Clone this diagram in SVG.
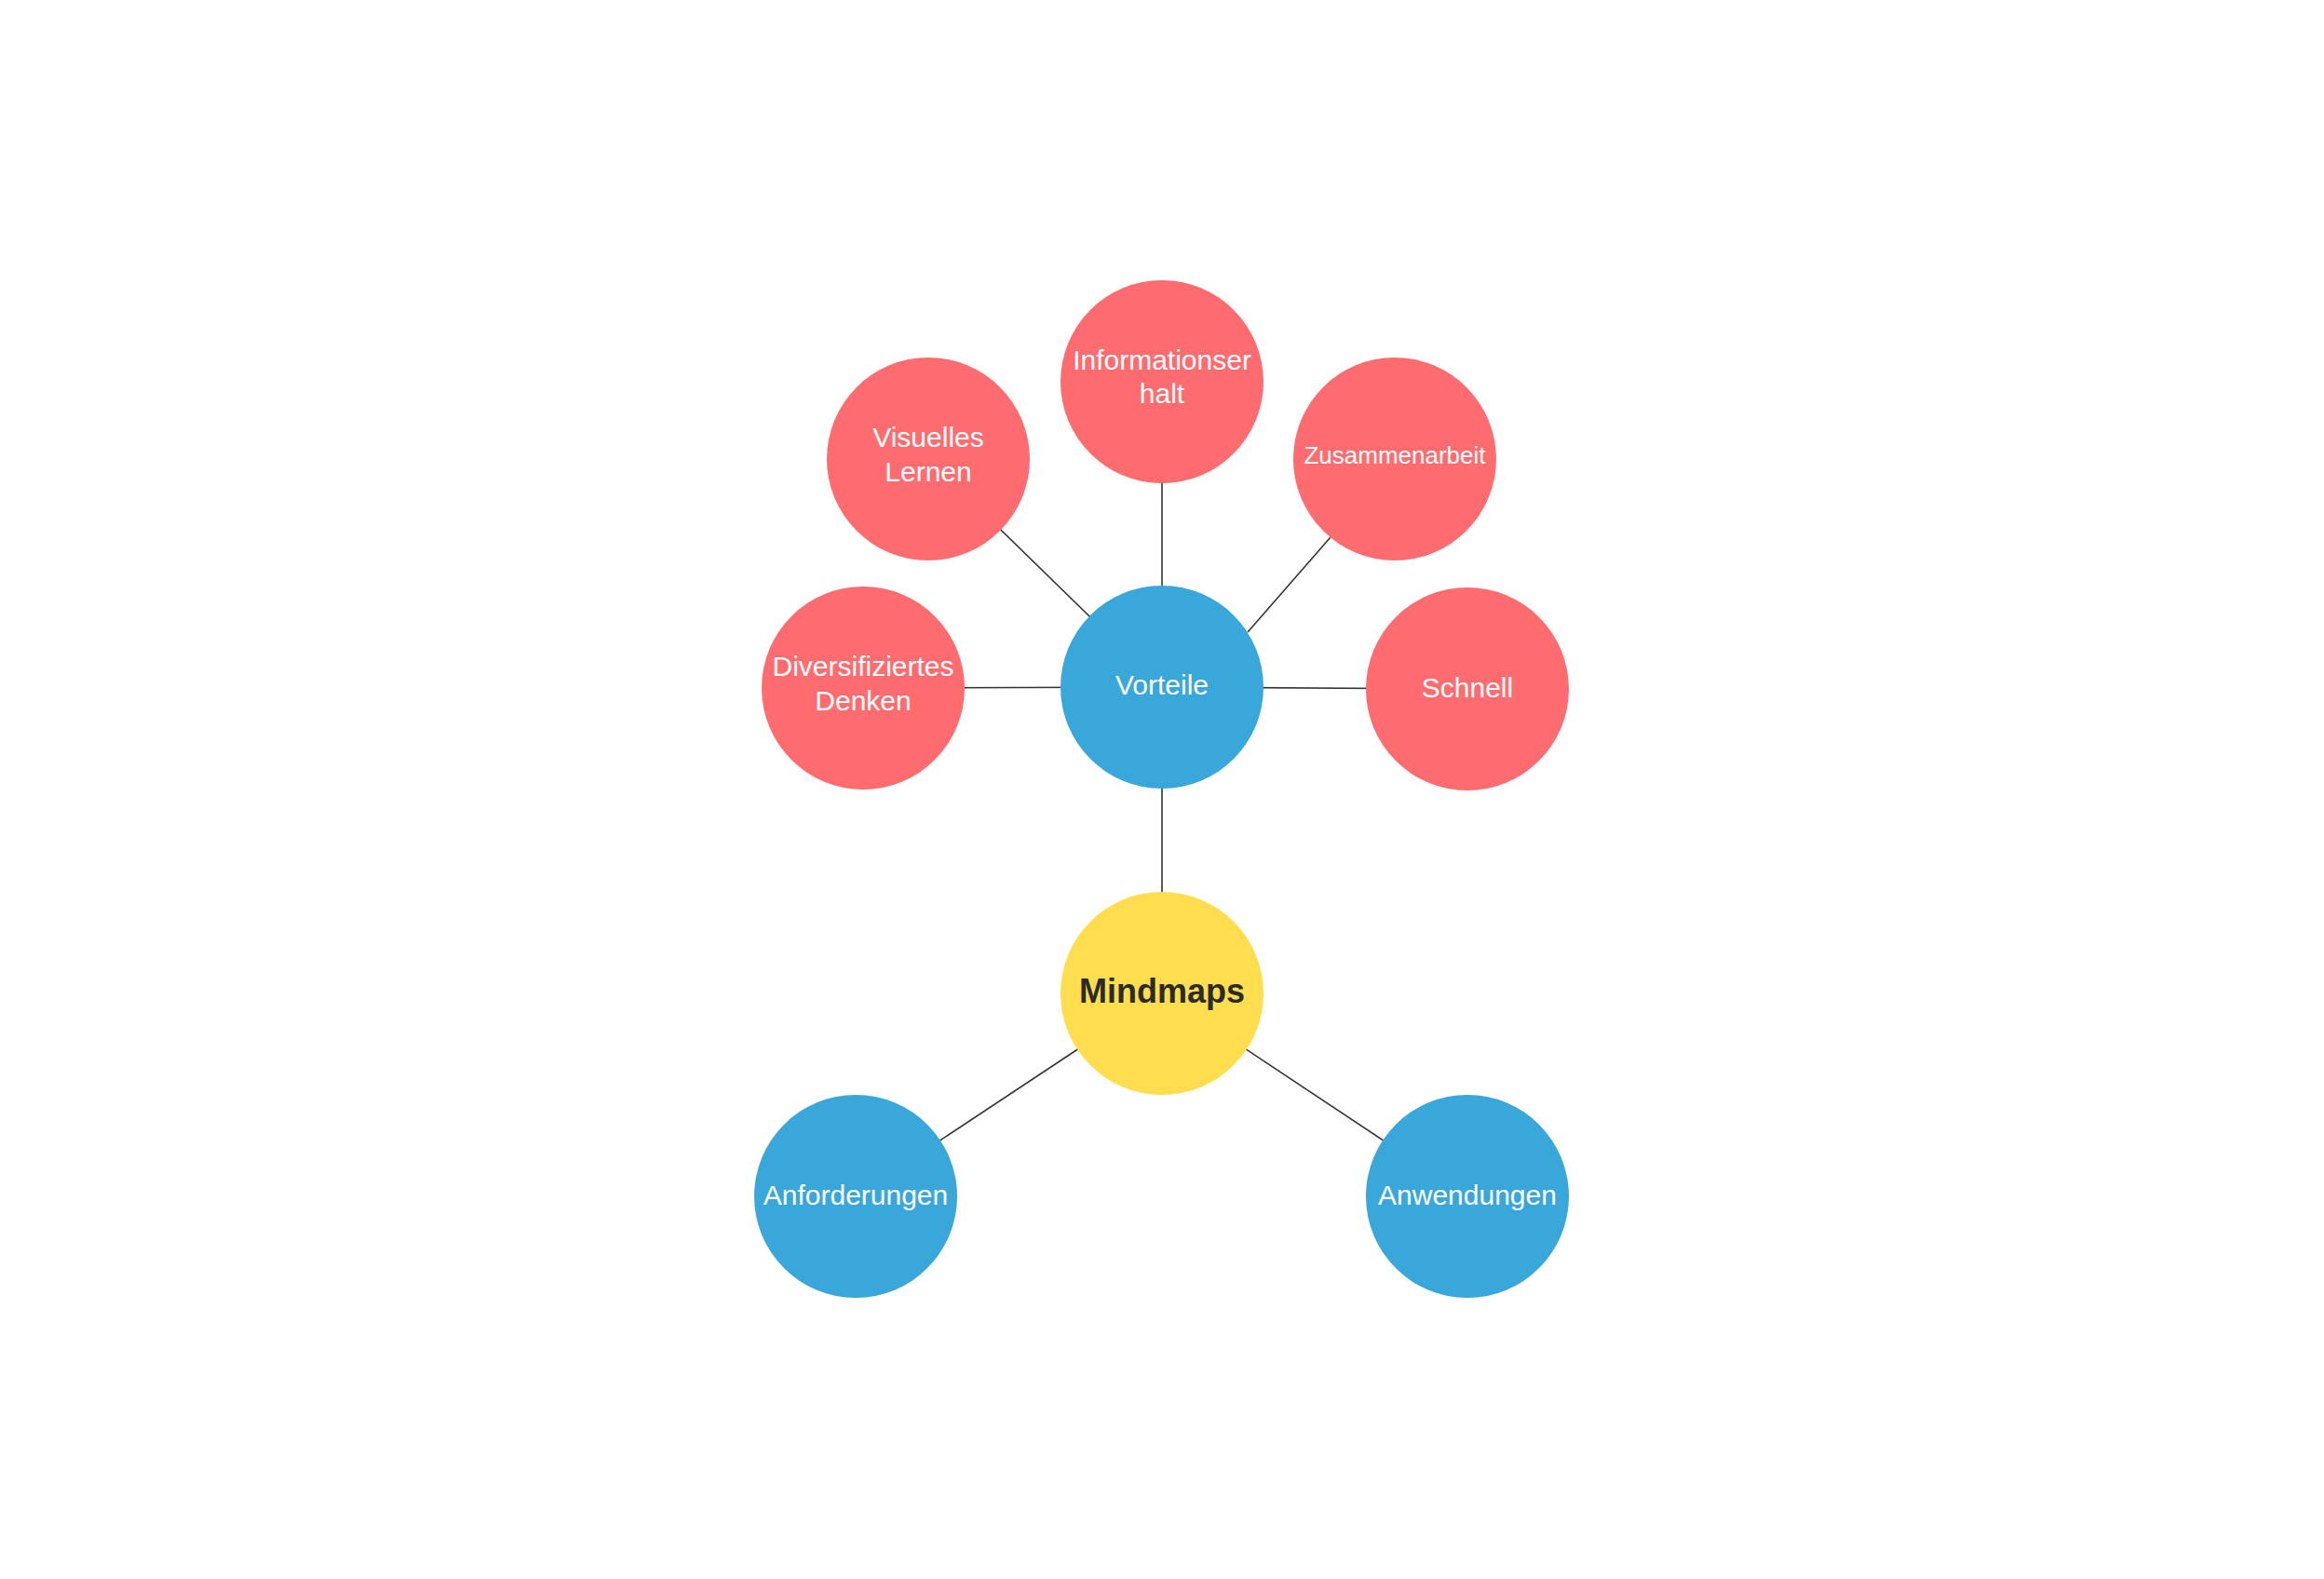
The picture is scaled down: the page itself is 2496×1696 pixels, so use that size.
<svg xmlns="http://www.w3.org/2000/svg" width="2496" height="1696" viewBox="0 0 2496 1696">
<style>
.red{fill:#FF6C70}
.blue{fill:#3AA7DA}
.yellow{fill:#FFDD4F}
.t{font-family:"Liberation Sans",Arial,sans-serif;font-size:30px;fill:#FFFFFF;text-anchor:middle}
.ts{font-size:26px}
.tm{font-family:"Liberation Sans",Arial,sans-serif;font-size:36px;font-weight:bold;fill:#2B2B2B;text-anchor:middle}
.c{stroke:#333333;stroke-width:1.6;fill:none}
</style>
<rect width="2496" height="1696" fill="#FFFFFF"/>
<g id="connectors">
<line class="c" x1="1248" y1="738" x2="1248" y2="410"/>
<line class="c" x1="1248" y1="738" x2="997" y2="493"/>
<line class="c" x1="1340" y1="679" x2="1429" y2="577"/>
<line class="c" x1="1248" y1="738" x2="927" y2="739"/>
<line class="c" x1="1248" y1="738" x2="1576" y2="740"/>
<line class="c" x1="1248" y1="738" x2="1248" y2="1067"/>
<line class="c" x1="1248" y1="1067" x2="919" y2="1285"/>
<line class="c" x1="1248" y1="1067" x2="1576" y2="1285"/>
</g>
<g id="node-informationserhalt">
<circle class="red" cx="1248" cy="410" r="109"/>
<text class="t" x="1248" y="397">Informationser</text>
<text class="t" x="1248" y="433">halt</text>
</g>
<g id="node-visuelles-lernen">
<circle class="red" cx="997" cy="493" r="109"/>
<text class="t" x="997" y="480">Visuelles</text>
<text class="t" x="997" y="517">Lernen</text>
</g>
<g id="node-zusammenarbeit">
<circle class="red" cx="1498" cy="493" r="109"/>
<text class="t ts" x="1498" y="498">Zusammenarbeit</text>
</g>
<g id="node-diversifiziertes-denken">
<circle class="red" cx="927" cy="739" r="109"/>
<text class="t" x="927" y="726">Diversifiziertes</text>
<text class="t" x="927" y="763">Denken</text>
</g>
<g id="node-schnell">
<circle class="red" cx="1576" cy="740" r="109"/>
<text class="t" x="1576" y="749">Schnell</text>
</g>
<g id="node-vorteile">
<circle class="blue" cx="1248" cy="738" r="109"/>
<text class="t" x="1248" y="746">Vorteile</text>
</g>
<g id="node-mindmaps">
<circle class="yellow" cx="1248" cy="1067" r="109"/>
<text class="tm" x="1248" y="1077">Mindmaps</text>
</g>
<g id="node-anforderungen">
<circle class="blue" cx="919" cy="1285" r="109"/>
<text class="t" x="919" y="1294">Anforderungen</text>
</g>
<g id="node-anwendungen">
<circle class="blue" cx="1576" cy="1285" r="109"/>
<text class="t" x="1576" y="1294">Anwendungen</text>
</g>
</svg>
